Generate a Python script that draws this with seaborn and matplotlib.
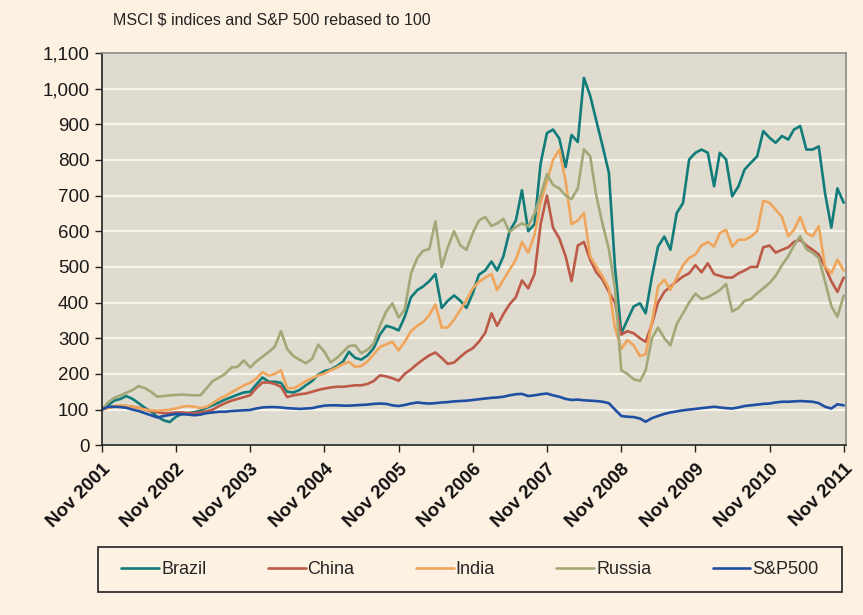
import numpy as np
import pandas as pd
import matplotlib
matplotlib.use('Agg')
import matplotlib.pyplot as plt
import matplotlib.dates as mdates
from matplotlib.patches import Rectangle
from matplotlib.ticker import FuncFormatter
import seaborn as sns

# monthly points, Nov 2001 .. Nov 2011
months = pd.date_range('2001-11-01', periods=121, freq='MS')

brazil = [100, 112, 125, 130, 138, 130, 118, 105, 95, 80,
          70, 65, 80, 88, 90, 93, 97, 105, 112, 120,
          128, 135, 142, 148, 150, 170, 190, 178, 178, 175,
          150, 148, 155, 168, 180, 198, 208, 212, 222, 235,
          262, 245, 240, 252, 272, 310, 335, 330, 322, 360,
          415, 435, 445, 460, 480, 385, 405, 420, 405, 385,
          426, 478, 490, 515, 490, 530, 600, 630, 715, 600,
          620, 790, 875, 885, 860, 780, 870, 850, 1030, 980,
          910, 839, 764, 500, 314, 351, 389, 398, 370, 473,
          557, 585, 548, 651, 679, 801, 820, 829, 820, 726,
          820, 801, 698, 726, 773, 792, 810, 881, 862, 848,
          867, 857, 885, 895, 829, 829, 838, 707, 610, 720,
          680]

china = [100, 105, 108, 110, 110, 108, 105, 100, 96, 93,
         90, 90, 92, 92, 90, 90, 92, 95, 100, 110,
         118, 125, 130, 135, 140, 160, 176, 176, 172, 164,
         135, 140, 143, 145, 150, 155, 159, 162, 164, 164,
         166, 168, 168, 172, 180, 196, 193, 188, 181, 200,
         213, 228, 240, 252, 260, 245, 228, 232, 248, 262,
         272, 290, 315, 370, 335, 368, 395, 415, 462, 440,
         480, 620, 700, 610, 580, 530, 460, 560, 570, 520,
         485, 464, 430, 400, 310, 320, 314, 300, 290, 340,
         400, 430, 445, 460, 473, 482, 505, 485, 510, 480,
         475, 470, 470, 482, 490, 500, 500, 555, 560, 540,
         548, 555, 570, 576, 560, 548, 535, 500, 460, 430,
         470]

india = [100, 105, 110, 112, 110, 108, 104, 100, 98, 97,
         98, 100, 103, 108, 110, 108, 104, 108, 118, 130,
         138, 148, 158, 168, 175, 187, 205, 195, 200, 210,
         160, 160, 168, 180, 188, 196, 201, 210, 218, 228,
         234, 220, 222, 235, 255, 275, 283, 290, 266, 290,
         320, 335, 345, 365, 395, 330, 330, 352, 380, 407,
         440, 458, 470, 480, 435, 464, 492, 520, 570, 540,
         590, 680, 740, 800, 829, 740, 620, 630, 651, 529,
         501, 473, 440, 330, 270, 295, 280, 250, 255, 345,
         445, 464, 436, 470, 505, 525, 535, 560, 570, 557,
         595, 604, 557, 576, 576, 585, 600, 685, 680, 660,
         640, 586, 604, 640, 595, 586, 614, 501, 482, 520,
         490]

russia = [100, 120, 133, 140, 147, 155, 166, 160, 150, 136,
          138, 140, 141, 142, 141, 140, 140, 160, 180, 190,
          200, 218, 220, 238, 218, 235, 248, 262, 276, 320,
          270, 250, 240, 230, 242, 282, 262, 232, 245, 262,
          278, 280, 258, 268, 285, 335, 375, 398, 358, 380,
          482, 525, 545, 550, 628, 500, 555, 600, 560, 548,
          595, 630, 640, 615, 622, 635, 598, 612, 622, 614,
          650, 700, 760, 730, 720, 700, 690, 720, 830, 810,
          700, 620, 550, 440, 210, 200, 185, 180, 210, 300,
          330, 300, 280, 340, 370, 400, 425, 410, 415, 425,
          435, 452, 375, 385, 405, 410, 426, 440, 455, 475,
          505, 530, 560, 586, 550, 540, 525, 460, 390, 360,
          420]

sp500 = [100, 108, 108, 107, 105, 100, 96, 90, 84, 78,
         82, 85, 88, 87, 86, 84, 86, 90, 92, 94,
         94, 96, 97, 98, 99, 103, 106, 107, 107, 106,
         104, 103, 102, 103, 104, 108, 111, 112, 112, 111,
         111, 112, 113, 114, 116, 117, 116, 112, 110, 113,
         117, 120, 118, 117, 118, 120, 121, 123, 124, 125,
         127, 129, 131, 133, 134, 136, 140, 143, 144, 138,
         140, 143, 145, 140, 136, 130, 127, 128, 126, 125,
         124, 122, 118, 100, 82, 80, 79, 75, 66, 76,
         82, 88, 92, 95, 98, 100, 102, 104, 106, 108,
         106, 104, 103, 106, 110, 112, 114, 116, 117, 120,
         122, 122, 123, 124, 123, 122, 118, 108, 103, 115,
         112]

names = ['Brazil', 'China', 'India', 'Russia', 'S&P500']
colours = ['#117c7a', '#bd5a47', '#f0a55c', '#a2a877', '#1f4fa3']

df = pd.DataFrame({'date': months, 'Brazil': brazil, 'China': china,
                   'India': india, 'Russia': russia, 'S&P500': sp500})
df = df.melt(id_vars='date', var_name='index', value_name='value')

sns.set_style('ticks')
plt.rcParams['font.family'] = ['Liberation Sans', 'DejaVu Sans']

bg = '#fdf1e2'
fig = plt.figure(figsize=(8.63, 6.15), dpi=100, facecolor=bg)
ax = fig.add_axes([0.118, 0.276, 0.862, 0.638])
ax.set_facecolor('#dfdccf')

sns.lineplot(data=df, x='date', y='value', hue='index', hue_order=names,
             palette=dict(zip(names, colours)), linewidth=1.9, ax=ax)

# grid & axes
ax.set_ylim(0, 1100)
ax.set_yticks(np.arange(0, 1101, 100))
ax.yaxis.set_major_formatter(FuncFormatter(lambda v, p: '{:,.0f}'.format(v)))
ax.set_axisbelow(True)
ax.grid(axis='y', color='#f7f4ec', linewidth=1.6)
ax.grid(axis='x', visible=False)

ax.set_xlim(months[0], months[-1] + pd.Timedelta(days=10))
ax.set_xticks(pd.date_range('2001-11-01', periods=11, freq='12MS'))
ax.xaxis.set_major_formatter(mdates.DateFormatter('%b %Y'))
for lab in ax.get_xticklabels():
    lab.set_rotation(45)
    lab.set_ha('right')
    lab.set_rotation_mode('anchor')
    lab.set_fontweight('bold')

ax.tick_params(axis='y', labelsize=13.5, length=5, width=1, color='#222222',
               labelcolor='#1a1a1a', pad=4)
ax.tick_params(axis='x', labelsize=13.5, length=5, width=1, color='#222222',
               labelcolor='#111111', pad=6)
ax.set_xlabel('')
ax.set_ylabel('')

for side in ['left', 'bottom']:
    ax.spines[side].set_color('#222222')
    ax.spines[side].set_linewidth(1.2)
for side in ['top', 'right']:
    ax.spines[side].set_visible(True)
    ax.spines[side].set_color('#8a8a86')
    ax.spines[side].set_linewidth(1.2)

fig.text(0.131, 0.967, 'MSCI $ indices and S&P 500 rebased to 100',
         fontsize=11.5, va='center', ha='left', color='#222222')

# legend box below the plot
handles, labels = ax.get_legend_handles_labels()
ax.get_legend().remove()
fig.patches.append(Rectangle((98 / 863, 1 - 592 / 615), 744 / 863, 45 / 615,
                             transform=fig.transFigure, fill=False,
                             edgecolor='#222222', linewidth=1.2))
fig.legend(handles, labels, loc='center', ncol=5,
           bbox_to_anchor=(0.5446, 0.074), frameon=False,
           handlelength=2.1, handletextpad=0.1, columnspacing=3.4,
           prop={'size': 13})

fig.savefig('out.png', dpi=100, facecolor=bg)
